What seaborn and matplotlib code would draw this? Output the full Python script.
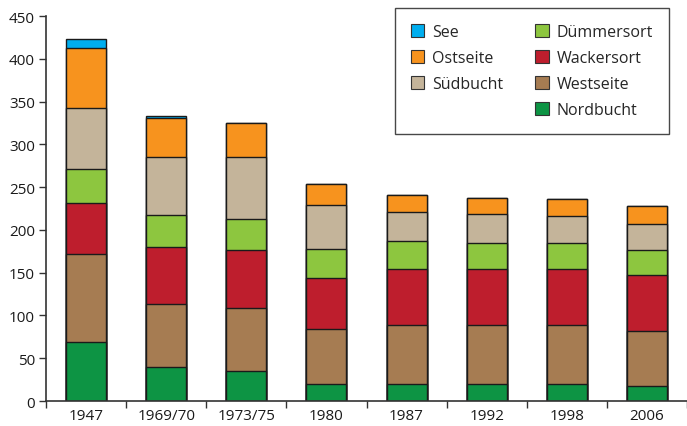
import numpy as np
import seaborn as sns
import matplotlib
matplotlib.use('Agg')
import matplotlib.pyplot as plt
from matplotlib.patches import Patch

years = ['1947', '1969/70', '1973/75', '1980', '1987', '1992', '1998', '2006']

# segments, bottom to top
nordbucht = [69, 40, 35, 20, 20, 20, 20, 18]
westseite = [103, 73, 74, 64, 69, 69, 69, 64]
wackersort = [59, 67, 67, 60, 65, 65, 65, 65]
duemmersort = [40, 38, 37, 34, 33, 31, 31, 29]
suedbucht = [72, 67, 72, 51, 34, 34, 31, 31]
ostseite = [70, 46, 40, 25, 20, 18, 20, 21]
see = [10, 2.5, 0, 0, 0, 0, 0, 0]

series = [('Nordbucht', nordbucht, '#0d9444'),
          ('Westseite', westseite, '#a67c52'),
          ('Wackersort', wackersort, '#be1e2d'),
          ('Dümmersort', duemmersort, '#8dc63f'),
          ('Südbucht', suedbucht, '#c4b49a'),
          ('Ostseite', ostseite, '#f7931e'),
          ('See', see, '#00aeef')]

sns.set_style('ticks')
plt.rcParams['font.family'] = ['Open Sans', 'DejaVu Sans']

fig = plt.figure(figsize=(6.87, 4.27), dpi=100)
ax = fig.add_axes([0.067, 0.0585, 0.933, 0.9015])

# stacked bars: draw cumulative totals from top series down
cum = np.cumsum([np.array(s[1], dtype=float) for s in series], axis=0)
for i in range(len(series) - 1, -1, -1):
    name, vals, col = series[i]
    sns.barplot(x=years, y=cum[i], order=years, color=col, width=0.5,
                edgecolor='#1a1a1a', linewidth=1.0, saturation=1, ax=ax)

ax.set_ylim(0, 450)
ax.set_xlim(-0.5, 7.5)
ax.set_yticks(range(0, 451, 50))
ax.set_xticks(range(len(years)))
ax.set_xticklabels(years)
ax.set_xticks(np.arange(-0.5, 8, 1), minor=True)
ax.tick_params(axis='x', which='major', length=0, labelsize=11, pad=5, colors='#1a1a1a')
ax.tick_params(axis='x', which='minor', length=5, width=1, direction='out', color='#333')
ax.tick_params(axis='y', length=5, width=1, labelsize=11, pad=3, color='#333', labelcolor='#1a1a1a')
ax.set_xlabel('')
ax.set_ylabel('')
for sp in ['top', 'right']:
    ax.spines[sp].set_visible(False)
for sp in ['left', 'bottom']:
    ax.spines[sp].set_color('#333')
    ax.spines[sp].set_linewidth(1.2)

colors = {s[0]: s[2] for s in series}
order = ['See', 'Ostseite', 'Südbucht', None, 'Dümmersort', 'Wackersort', 'Westseite', 'Nordbucht']
handles, labels = [], []
for n in order:
    if n is None:
        handles.append(Patch(facecolor='none', edgecolor='none'))
        labels.append('')
    else:
        handles.append(Patch(facecolor=colors[n], edgecolor='#333', linewidth=0.8))
        labels.append(n)
leg = ax.legend(handles, labels, ncol=2, loc='upper right', bbox_to_anchor=(0.972, 1.021),
                borderaxespad=0, fancybox=False, frameon=True, fontsize=11.5,
                handlelength=0.85, handleheight=0.85, handletextpad=0.5,
                labelspacing=0.62, columnspacing=2.0, borderpad=1.0)
leg.get_frame().set_edgecolor('#1a1a1a')
leg.get_frame().set_linewidth(1.0)

fig.savefig('out.png', dpi=100)
